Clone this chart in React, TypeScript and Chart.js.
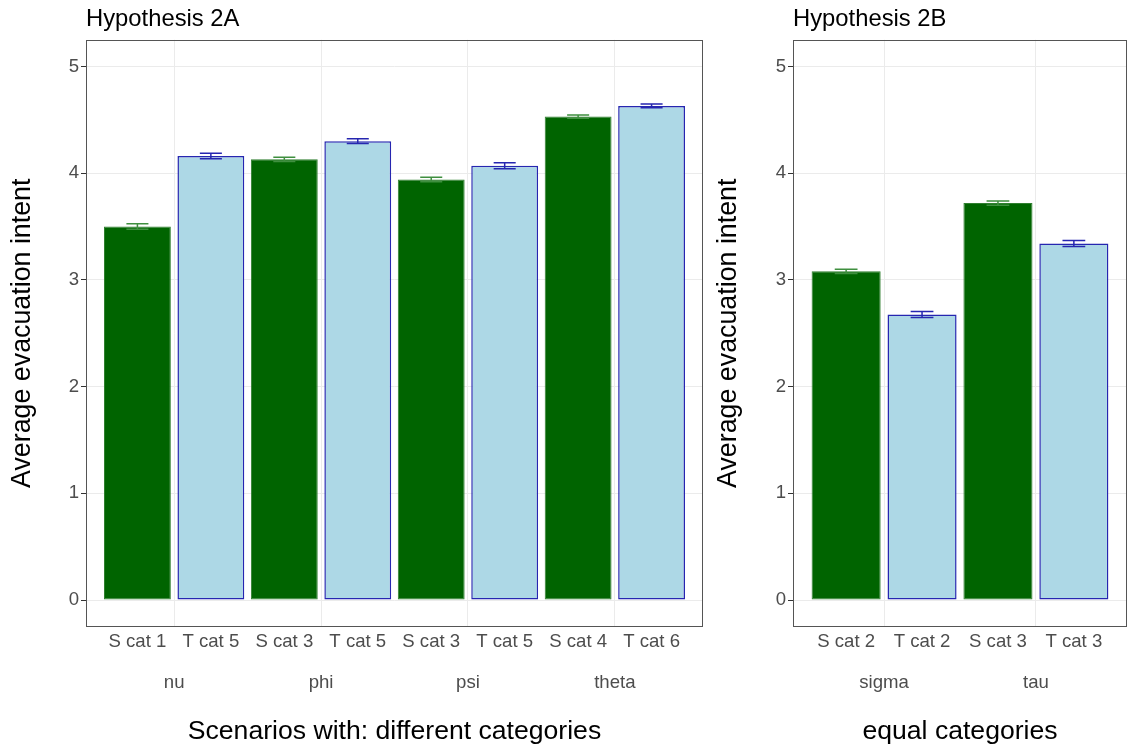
import React, { useEffect, useRef } from 'react';
import { Chart, registerables } from 'chart.js';

Chart.register(...registerables);

const FONT = '"Liberation Sans", Arial, Helvetica, sans-serif';

// ---- Hypothesis 2A data ----
const groupsA = ['nu', 'phi', 'psi', 'theta'];
const sLabelsA = ['S cat 1', 'S cat 3', 'S cat 3', 'S cat 4'];
const tLabelsA = ['T cat 5', 'T cat 5', 'T cat 5', 'T cat 6'];
const sValuesA = [3.5, 4.13, 3.94, 4.53];
const sErrorsA = [0.025, 0.02, 0.021, 0.015];
const tValuesA = [4.16, 4.3, 4.07, 4.63];
const tErrorsA = [0.026, 0.022, 0.028, 0.018];

// ---- Hypothesis 2B data ----
const groupsB = ['sigma', 'tau'];
const sLabelsB = ['S cat 2', 'S cat 3'];
const tLabelsB = ['T cat 2', 'T cat 3'];
const sValuesB = [3.08, 3.72];
const sErrorsB = [0.02, 0.02];
const tValuesB = [2.675, 3.34];
const tErrorsB = [0.028, 0.028];

const yTicks = [0, 1, 2, 3, 4, 5];
const yTitle = 'Average evacuation intent';

const errorBarPlugin = {
  id: 'errbars',
  afterDatasetsDraw(chart: any, _args: any, opts: any) {
    const ctx = chart.ctx;
    const ys = chart.scales.y;
    const xs = chart.scales.x;
    const half = (xs.getPixelForValue(1) - xs.getPixelForValue(0)) * opts.capHalf;
    chart.data.datasets.forEach((ds: any, i: number) => {
      const meta = chart.getDatasetMeta(i);
      meta.data.forEach((el: any, j: number) => {
        const v = ds.data[j].y;
        const e = ds.errors[j];
        const cx = el.x;
        const y1 = ys.getPixelForValue(v + e);
        const y2 = ys.getPixelForValue(v - e);
        ctx.save();
        ctx.strokeStyle = ds.errorColor;
        ctx.lineWidth = 1.5;
        ctx.beginPath();
        ctx.moveTo(cx, y1);
        ctx.lineTo(cx, y2);
        ctx.moveTo(cx - half, y1);
        ctx.lineTo(cx + half, y1);
        ctx.moveTo(cx - half, y2);
        ctx.lineTo(cx + half, y2);
        ctx.stroke();
        ctx.restore();
      });
    });
    const a = chart.chartArea;
    const l = Math.round(a.left), t = Math.round(a.top), r = Math.round(a.right), b = Math.round(a.bottom);
    ctx.save();
    ctx.strokeStyle = '#555555';
    ctx.lineWidth = 1;
    ctx.strokeRect(l + 0.5, t + 0.5, r - l - 1, b - t - 1);
    ctx.restore();
  },
};

type PanelProps = {
  left: number;
  width: number;
  padRight: number;
  yWidth: number;
  title: string;
  xTitle: string;
  groups: string[];
  sLabels: string[];
  tLabels: string[];
  sValues: number[];
  sErrors: number[];
  tValues: number[];
  tErrors: number[];
};

function Panel(p: PanelProps) {
  const ref = useRef<HTMLCanvasElement | null>(null);
  useEffect(() => {
    if (!ref.current) return;
    const n = p.groups.length;
    const sData = p.sValues.map((v, i) => ({ x: i + 1 - 0.25, y: v }));
    const tData = p.tValues.map((v, i) => ({ x: i + 1 + 0.25, y: v }));
    const barCenters = p.groups.flatMap((_, i) => [i + 0.75, i + 1.25]);
    const barLabels = p.groups.flatMap((_, i) => [p.sLabels[i], p.tLabels[i]]);
    const groupCenters = p.groups.map((_, i) => i + 1);

    const chart = new Chart(ref.current, {
      type: 'bar',
      data: {
        datasets: [
          {
            label: 'S',
            data: sData,
            backgroundColor: '#006400',
            borderColor: '#2f7f2f',
            borderWidth: 1,
            borderSkipped: false,
            grouped: false,
            barPercentage: 0.91,
            categoryPercentage: 1,
            errors: p.sErrors,
            errorColor: '#3f8f3f',
          } as any,
          {
            label: 'T',
            data: tData,
            backgroundColor: '#add8e6',
            borderColor: '#2626b0',
            borderWidth: 1.5,
            borderSkipped: false,
            grouped: false,
            barPercentage: 0.91,
            categoryPercentage: 1,
            errors: p.tErrors,
            errorColor: '#2626b0',
          } as any,
        ],
      },
      options: {
        responsive: false,
        animation: false,
        layout: { padding: { left: 0, right: p.padRight, top: 0, bottom: 0 } },
        plugins: {
          legend: { display: false },
          tooltip: { enabled: false },
          title: {
            display: true,
            text: p.title,
            align: 'start',
            fullSize: false,
            color: '#000000',
            font: { family: FONT, size: 23.8, weight: 'normal' },
            padding: { top: 4.9, bottom: 6.3 },
          },
          errbars: { capHalf: 0.075 },
        } as any,
        scales: {
          x: {
            type: 'linear',
            position: 'bottom',
            offset: false,
            min: 0.4,
            max: n + 0.6,
            weight: 0,
            afterBuildTicks: (s: any) => {
              s.ticks = barCenters.map((v) => ({ value: v }));
            },
            afterFit: (s: any) => {
              s.height = 30;
            },
            grid: { display: false, drawTicks: false, tickLength: 0, offset: false },
            border: { display: false },
            ticks: {
              autoSkip: false,
              maxRotation: 0,
              padding: 4,
              color: '#4d4d4d',
              font: { family: FONT, size: 18.6 },
              callback: (_v: any, i: number) => barLabels[i],
            },
          },
          x2: {
            type: 'linear',
            position: 'bottom',
            offset: false,
            min: 0.4,
            max: n + 0.6,
            weight: 1,
            afterBuildTicks: (s: any) => {
              s.ticks = groupCenters.map((v) => ({ value: v }));
            },
            afterFit: (s: any) => {
              s.height = 92.3;
            },
            grid: { display: true, color: '#ebebeb', lineWidth: 1, drawTicks: false, tickLength: 0, offset: false },
            border: { display: false },
            ticks: {
              autoSkip: false,
              maxRotation: 0,
              padding: 14.6,
              color: '#4d4d4d',
              font: { family: FONT, size: 18.6 },
              callback: (_v: any, i: number) => p.groups[i],
            },
            title: {
              display: true,
              text: p.xTitle,
              color: '#000000',
              font: { family: FONT, size: 26.6 },
              padding: { top: 0, bottom: 1 },
            },
          },
          y: {
            type: 'linear',
            position: 'left',
            min: -0.25,
            max: 5.25,
            afterBuildTicks: (s: any) => {
              s.ticks = yTicks.map((v) => ({ value: v }));
            },
            afterFit: (s: any) => {
              s.width = p.yWidth;
            },
            grid: { color: '#ebebeb', lineWidth: 1, tickColor: '#333333', tickLength: 5, drawTicks: true },
            border: { display: false },
            ticks: {
              padding: 2,
              color: '#4d4d4d',
              font: { family: FONT, size: 18.6 },
            },
            title: {
              display: true,
              text: yTitle,
              color: '#000000',
              font: { family: FONT, size: 26.8 },
              padding: { top: 6.5, bottom: 0 },
            },
          },
        } as any,
      },
      plugins: [errorBarPlugin],
    });
    return () => chart.destroy();
  }, []);
  return (
    <canvas
      ref={ref}
      width={p.width}
      height={749}
      style={{ position: 'absolute', left: p.left, top: 0, width: p.width, height: 749 }}
    />
  );
}

export default function App() {
  return (
    <div
      style={{
        position: 'absolute',
        left: 0,
        top: 0,
        width: 1138,
        height: 749,
        background: '#ffffff',
        overflow: 'hidden',
      }}
    >
      <Panel
        left={0}
        width={720}
        padRight={17}
        yWidth={86}
        title="Hypothesis 2A"
        xTitle="Scenarios with: different categories"
        groups={groupsA}
        sLabels={sLabelsA}
        tLabels={tLabelsA}
        sValues={sValuesA}
        sErrors={sErrorsA}
        tValues={tValuesA}
        tErrors={tErrorsA}
      />
      <Panel
        left={706}
        width={432}
        padRight={11}
        yWidth={87}
        title="Hypothesis 2B"
        xTitle="equal categories"
        groups={groupsB}
        sLabels={sLabelsB}
        tLabels={tLabelsB}
        sValues={sValuesB}
        sErrors={sErrorsB}
        tValues={tValuesB}
        tErrors={tErrorsB}
      />
    </div>
  );
}
